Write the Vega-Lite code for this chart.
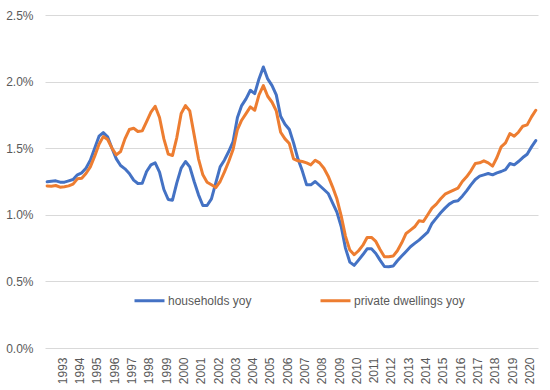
{
  "$schema": "https://vega.github.io/schema/vega-lite/v6.json",
  "width": 493,
  "height": 333,
  "autosize": {"type": "none"},
  "padding": {"left": 45, "top": 15, "right": 12, "bottom": 42},
  "background": "white",
  "config": {"view": {"stroke": null}, "font": "Liberation Sans"},
  "data": {"values": [
    {"d": "1992-02-15", "households yoy": 1.248, "private dwellings yoy": 1.217},
    {"d": "1992-05-15", "households yoy": 1.252, "private dwellings yoy": 1.215},
    {"d": "1992-08-15", "households yoy": 1.255, "private dwellings yoy": 1.22},
    {"d": "1992-11-15", "households yoy": 1.245, "private dwellings yoy": 1.207},
    {"d": "1993-02-15", "households yoy": 1.245, "private dwellings yoy": 1.21},
    {"d": "1993-05-15", "households yoy": 1.255, "private dwellings yoy": 1.217},
    {"d": "1993-08-15", "households yoy": 1.265, "private dwellings yoy": 1.23},
    {"d": "1993-11-15", "households yoy": 1.30, "private dwellings yoy": 1.27},
    {"d": "1994-02-15", "households yoy": 1.315, "private dwellings yoy": 1.275},
    {"d": "1994-05-15", "households yoy": 1.35, "private dwellings yoy": 1.31},
    {"d": "1994-08-15", "households yoy": 1.41, "private dwellings yoy": 1.36},
    {"d": "1994-11-15", "households yoy": 1.50, "private dwellings yoy": 1.44},
    {"d": "1995-02-15", "households yoy": 1.59, "private dwellings yoy": 1.53},
    {"d": "1995-05-15", "households yoy": 1.617, "private dwellings yoy": 1.587},
    {"d": "1995-08-15", "households yoy": 1.585, "private dwellings yoy": 1.565},
    {"d": "1995-11-15", "households yoy": 1.50, "private dwellings yoy": 1.50},
    {"d": "1996-02-15", "households yoy": 1.42, "private dwellings yoy": 1.45},
    {"d": "1996-05-15", "households yoy": 1.37, "private dwellings yoy": 1.475},
    {"d": "1996-08-15", "households yoy": 1.345, "private dwellings yoy": 1.57},
    {"d": "1996-11-15", "households yoy": 1.31, "private dwellings yoy": 1.64},
    {"d": "1997-02-15", "households yoy": 1.26, "private dwellings yoy": 1.65},
    {"d": "1997-05-15", "households yoy": 1.235, "private dwellings yoy": 1.625},
    {"d": "1997-08-15", "households yoy": 1.237, "private dwellings yoy": 1.63},
    {"d": "1997-11-15", "households yoy": 1.325, "private dwellings yoy": 1.70},
    {"d": "1998-02-15", "households yoy": 1.375, "private dwellings yoy": 1.77},
    {"d": "1998-05-15", "households yoy": 1.39, "private dwellings yoy": 1.815},
    {"d": "1998-08-15", "households yoy": 1.32, "private dwellings yoy": 1.73},
    {"d": "1998-11-15", "households yoy": 1.19, "private dwellings yoy": 1.57},
    {"d": "1999-02-15", "households yoy": 1.115, "private dwellings yoy": 1.455},
    {"d": "1999-05-15", "households yoy": 1.11, "private dwellings yoy": 1.445},
    {"d": "1999-08-15", "households yoy": 1.24, "private dwellings yoy": 1.58},
    {"d": "1999-11-15", "households yoy": 1.35, "private dwellings yoy": 1.76},
    {"d": "2000-02-15", "households yoy": 1.40, "private dwellings yoy": 1.82},
    {"d": "2000-05-15", "households yoy": 1.36, "private dwellings yoy": 1.78},
    {"d": "2000-08-15", "households yoy": 1.25, "private dwellings yoy": 1.60},
    {"d": "2000-11-15", "households yoy": 1.15, "private dwellings yoy": 1.42},
    {"d": "2001-02-15", "households yoy": 1.07, "private dwellings yoy": 1.30},
    {"d": "2001-05-15", "households yoy": 1.07, "private dwellings yoy": 1.245},
    {"d": "2001-08-15", "households yoy": 1.12, "private dwellings yoy": 1.225},
    {"d": "2001-11-15", "households yoy": 1.24, "private dwellings yoy": 1.205},
    {"d": "2002-02-15", "households yoy": 1.36, "private dwellings yoy": 1.25},
    {"d": "2002-05-15", "households yoy": 1.41, "private dwellings yoy": 1.32},
    {"d": "2002-08-15", "households yoy": 1.475, "private dwellings yoy": 1.40},
    {"d": "2002-11-15", "households yoy": 1.55, "private dwellings yoy": 1.49},
    {"d": "2003-02-15", "households yoy": 1.73, "private dwellings yoy": 1.64},
    {"d": "2003-05-15", "households yoy": 1.82, "private dwellings yoy": 1.71},
    {"d": "2003-08-15", "households yoy": 1.87, "private dwellings yoy": 1.76},
    {"d": "2003-11-15", "households yoy": 1.935, "private dwellings yoy": 1.81},
    {"d": "2004-02-15", "households yoy": 1.91, "private dwellings yoy": 1.785},
    {"d": "2004-05-15", "households yoy": 2.02, "private dwellings yoy": 1.90},
    {"d": "2004-08-15", "households yoy": 2.11, "private dwellings yoy": 1.97},
    {"d": "2004-11-15", "households yoy": 2.02, "private dwellings yoy": 1.89},
    {"d": "2005-02-15", "households yoy": 1.97, "private dwellings yoy": 1.845},
    {"d": "2005-05-15", "households yoy": 1.90, "private dwellings yoy": 1.78},
    {"d": "2005-08-15", "households yoy": 1.74, "private dwellings yoy": 1.62},
    {"d": "2005-11-15", "households yoy": 1.68, "private dwellings yoy": 1.57},
    {"d": "2006-02-15", "households yoy": 1.64, "private dwellings yoy": 1.535},
    {"d": "2006-05-15", "households yoy": 1.54, "private dwellings yoy": 1.42},
    {"d": "2006-08-15", "households yoy": 1.42, "private dwellings yoy": 1.405},
    {"d": "2006-11-15", "households yoy": 1.33, "private dwellings yoy": 1.40},
    {"d": "2007-02-15", "households yoy": 1.225, "private dwellings yoy": 1.39},
    {"d": "2007-05-15", "households yoy": 1.225, "private dwellings yoy": 1.375},
    {"d": "2007-08-15", "households yoy": 1.25, "private dwellings yoy": 1.41},
    {"d": "2007-11-15", "households yoy": 1.22, "private dwellings yoy": 1.39},
    {"d": "2008-02-15", "households yoy": 1.19, "private dwellings yoy": 1.35},
    {"d": "2008-05-15", "households yoy": 1.16, "private dwellings yoy": 1.29},
    {"d": "2008-08-15", "households yoy": 1.09, "private dwellings yoy": 1.21},
    {"d": "2008-11-15", "households yoy": 1.02, "private dwellings yoy": 1.12},
    {"d": "2009-02-15", "households yoy": 0.91, "private dwellings yoy": 0.99},
    {"d": "2009-05-15", "households yoy": 0.75, "private dwellings yoy": 0.84},
    {"d": "2009-08-15", "households yoy": 0.645, "private dwellings yoy": 0.735},
    {"d": "2009-11-15", "households yoy": 0.62, "private dwellings yoy": 0.70},
    {"d": "2010-02-15", "households yoy": 0.66, "private dwellings yoy": 0.73},
    {"d": "2010-05-15", "households yoy": 0.70, "private dwellings yoy": 0.77},
    {"d": "2010-08-15", "households yoy": 0.745, "private dwellings yoy": 0.83},
    {"d": "2010-11-15", "households yoy": 0.745, "private dwellings yoy": 0.83},
    {"d": "2011-02-15", "households yoy": 0.71, "private dwellings yoy": 0.80},
    {"d": "2011-05-15", "households yoy": 0.66, "private dwellings yoy": 0.74},
    {"d": "2011-08-15", "households yoy": 0.612, "private dwellings yoy": 0.685},
    {"d": "2011-11-15", "households yoy": 0.61, "private dwellings yoy": 0.685},
    {"d": "2012-02-15", "households yoy": 0.615, "private dwellings yoy": 0.69},
    {"d": "2012-05-15", "households yoy": 0.655, "private dwellings yoy": 0.73},
    {"d": "2012-08-15", "households yoy": 0.69, "private dwellings yoy": 0.79},
    {"d": "2012-11-15", "households yoy": 0.725, "private dwellings yoy": 0.86},
    {"d": "2013-02-15", "households yoy": 0.76, "private dwellings yoy": 0.885},
    {"d": "2013-05-15", "households yoy": 0.785, "private dwellings yoy": 0.91},
    {"d": "2013-08-15", "households yoy": 0.81, "private dwellings yoy": 0.955},
    {"d": "2013-11-15", "households yoy": 0.84, "private dwellings yoy": 0.95},
    {"d": "2014-02-15", "households yoy": 0.87, "private dwellings yoy": 1.00},
    {"d": "2014-05-15", "households yoy": 0.935, "private dwellings yoy": 1.05},
    {"d": "2014-08-15", "households yoy": 0.975, "private dwellings yoy": 1.08},
    {"d": "2014-11-15", "households yoy": 1.015, "private dwellings yoy": 1.12},
    {"d": "2015-02-15", "households yoy": 1.05, "private dwellings yoy": 1.155},
    {"d": "2015-05-15", "households yoy": 1.08, "private dwellings yoy": 1.17},
    {"d": "2015-08-15", "households yoy": 1.10, "private dwellings yoy": 1.185},
    {"d": "2015-11-15", "households yoy": 1.105, "private dwellings yoy": 1.20},
    {"d": "2016-02-15", "households yoy": 1.14, "private dwellings yoy": 1.25},
    {"d": "2016-05-15", "households yoy": 1.18, "private dwellings yoy": 1.285},
    {"d": "2016-08-15", "households yoy": 1.225, "private dwellings yoy": 1.33},
    {"d": "2016-11-15", "households yoy": 1.265, "private dwellings yoy": 1.385},
    {"d": "2017-02-15", "households yoy": 1.29, "private dwellings yoy": 1.39},
    {"d": "2017-05-15", "households yoy": 1.30, "private dwellings yoy": 1.405},
    {"d": "2017-08-15", "households yoy": 1.31, "private dwellings yoy": 1.39},
    {"d": "2017-11-15", "households yoy": 1.30, "private dwellings yoy": 1.365},
    {"d": "2018-02-15", "households yoy": 1.315, "private dwellings yoy": 1.43},
    {"d": "2018-05-15", "households yoy": 1.325, "private dwellings yoy": 1.51},
    {"d": "2018-08-15", "households yoy": 1.34, "private dwellings yoy": 1.54},
    {"d": "2018-11-15", "households yoy": 1.385, "private dwellings yoy": 1.61},
    {"d": "2019-02-15", "households yoy": 1.375, "private dwellings yoy": 1.59},
    {"d": "2019-05-15", "households yoy": 1.40, "private dwellings yoy": 1.62},
    {"d": "2019-08-15", "households yoy": 1.43, "private dwellings yoy": 1.665},
    {"d": "2019-11-15", "households yoy": 1.455, "private dwellings yoy": 1.675},
    {"d": "2020-02-15", "households yoy": 1.51, "private dwellings yoy": 1.735},
    {"d": "2020-05-15", "households yoy": 1.557, "private dwellings yoy": 1.785}
  ]},
  "transform": [{"fold": ["households yoy", "private dwellings yoy"], "as": ["series", "value"]}],
  "mark": {"type": "line", "strokeWidth": 3, "strokeJoin": "round", "strokeCap": "round"},
  "encoding": {
    "x": {
      "field": "d",
      "type": "temporal",
      "scale": {"type": "utc", "domain": [{"year": 1992, "month": 1, "date": 1, "utc": true}, {"year": 2020, "month": 7, "date": 1, "utc": true}]},
      "axis": {
        "title": null,
        "domain": false,
        "ticks": false,
        "grid": false,
        "labelAngle": 270,
        "labelPadding": 9,
        "labelFontSize": 12,
        "labelColor": "#595959",
        "labelOverlap": false,
        "labelFlush": false,
        "labelExpr": "utcFormat(datum.value, '%Y')",
        "values": [
          {"year": 1993, "month": 1, "date": 1, "utc": true}, {"year": 1994, "month": 1, "date": 1, "utc": true},
          {"year": 1995, "month": 1, "date": 1, "utc": true}, {"year": 1996, "month": 1, "date": 1, "utc": true},
          {"year": 1997, "month": 1, "date": 1, "utc": true}, {"year": 1998, "month": 1, "date": 1, "utc": true},
          {"year": 1999, "month": 1, "date": 1, "utc": true}, {"year": 2000, "month": 1, "date": 1, "utc": true},
          {"year": 2001, "month": 1, "date": 1, "utc": true}, {"year": 2002, "month": 1, "date": 1, "utc": true},
          {"year": 2003, "month": 1, "date": 1, "utc": true}, {"year": 2004, "month": 1, "date": 1, "utc": true},
          {"year": 2005, "month": 1, "date": 1, "utc": true}, {"year": 2006, "month": 1, "date": 1, "utc": true},
          {"year": 2007, "month": 1, "date": 1, "utc": true}, {"year": 2008, "month": 1, "date": 1, "utc": true},
          {"year": 2009, "month": 1, "date": 1, "utc": true}, {"year": 2010, "month": 1, "date": 1, "utc": true},
          {"year": 2011, "month": 1, "date": 1, "utc": true}, {"year": 2012, "month": 1, "date": 1, "utc": true},
          {"year": 2013, "month": 1, "date": 1, "utc": true}, {"year": 2014, "month": 1, "date": 1, "utc": true},
          {"year": 2015, "month": 1, "date": 1, "utc": true}, {"year": 2016, "month": 1, "date": 1, "utc": true},
          {"year": 2017, "month": 1, "date": 1, "utc": true}, {"year": 2018, "month": 1, "date": 1, "utc": true},
          {"year": 2019, "month": 1, "date": 1, "utc": true}, {"year": 2020, "month": 1, "date": 1, "utc": true}
        ]
      }
    },
    "y": {
      "field": "value",
      "type": "quantitative",
      "scale": {"domain": [0, 2.5], "nice": false},
      "axis": {
        "title": null,
        "domain": false,
        "ticks": false,
        "values": [0, 0.5, 1, 1.5, 2, 2.5],
        "labelExpr": "format(datum.value, '.1f') + '%'",
        "labelPadding": 12,
        "labelFontSize": 12,
        "labelColor": "#595959",
        "gridColor": "#D9D9D9",
        "gridWidth": 1,
        "gridOpacity": 1
      }
    },
    "color": {
      "field": "series",
      "type": "nominal",
      "scale": {"domain": ["households yoy", "private dwellings yoy"], "range": ["#4472C4", "#ED7D31"]},
      "legend": {
        "title": null,
        "orient": "none",
        "legendX": 88,
        "legendY": 269,
        "direction": "horizontal",
        "symbolType": "stroke",
        "symbolSize": 900,
        "symbolStrokeWidth": 3,
        "labelFontSize": 12,
        "labelColor": "#595959",
        "labelOffset": 2,
        "columnPadding": 62,
        "padding": 0,
        "labelLimit": 300
      }
    }
  }
}
